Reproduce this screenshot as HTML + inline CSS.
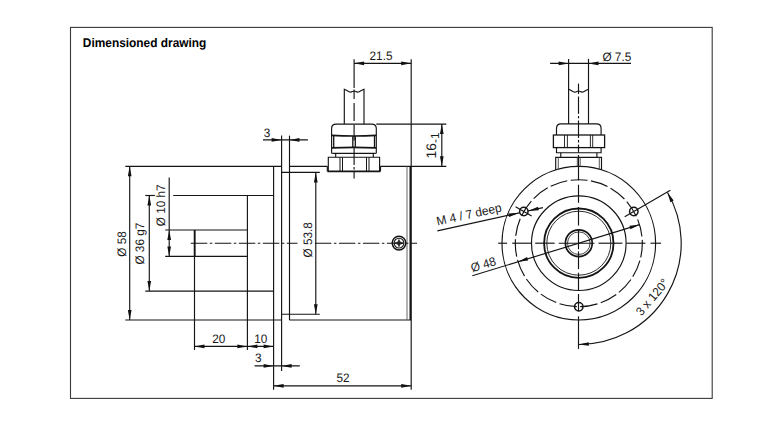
<!DOCTYPE html>
<html><head><meta charset="utf-8"><title>Dimensioned drawing</title>
<style>
html,body{margin:0;padding:0;background:#fff;}
svg{display:block;font-family:"Liberation Sans",Arial,Helvetica,sans-serif;text-rendering:geometricPrecision;}
</style></head>
<body>
<svg width="784" height="423" viewBox="0 0 784 423">
<rect x="0" y="0" width="784" height="423" fill="#fff"/>
<rect x="70.5" y="27.4" width="641.7" height="371.0" fill="none" stroke="#3a3a3a" stroke-width="1.1"/>
<text transform="translate(82.80 47.30) scale(1 1.06)" font-size="11.9" text-anchor="start" font-weight="bold" >Dimensioned drawing</text>
<g stroke="#141414" fill="none" stroke-width="1.15">
<line x1="125.30" y1="166.30" x2="281.60" y2="166.30" stroke-width="1.15" />
<line x1="289.50" y1="166.30" x2="327.30" y2="166.30" stroke-width="1.15" />
<line x1="380.50" y1="166.30" x2="446.30" y2="166.30" stroke-width="1.15" />
<line x1="125.30" y1="320.00" x2="281.60" y2="320.00" stroke-width="1.15" />
<line x1="289.30" y1="320.00" x2="411.20" y2="320.00" stroke-width="1.15" />
<line x1="273.60" y1="166.30" x2="273.60" y2="389.80" stroke-width="1.15" />
<line x1="281.60" y1="135.60" x2="281.60" y2="371.00" stroke-width="1.15" />
<line x1="289.50" y1="135.60" x2="289.50" y2="320.00" stroke-width="1.15" />
<line x1="281.60" y1="172.40" x2="319.80" y2="172.40" stroke-width="1.15" />
<line x1="281.60" y1="314.20" x2="319.80" y2="314.20" stroke-width="1.15" />
<line x1="411.20" y1="59.20" x2="411.20" y2="389.80" stroke-width="1.15" />
<line x1="410.30" y1="166.30" x2="410.30" y2="320.00" stroke-width="1.6" />
<line x1="407.00" y1="166.30" x2="407.00" y2="320.00" stroke-width="0.9" stroke="#555"/>
<line x1="247.40" y1="195.50" x2="247.40" y2="350.00" stroke-width="1.15" />
<line x1="173.20" y1="195.50" x2="273.60" y2="195.50" stroke-width="1.15" />
<line x1="145.30" y1="195.50" x2="154.90" y2="195.50" stroke-width="1.15" />
<line x1="145.30" y1="291.10" x2="273.60" y2="291.10" stroke-width="1.15" />
<line x1="194.50" y1="230.00" x2="194.50" y2="350.00" stroke-width="1.15" />
<line x1="194.70" y1="230.00" x2="194.70" y2="256.40" stroke-width="1.8" />
<line x1="165.20" y1="230.00" x2="247.40" y2="230.00" stroke-width="1.15" />
<line x1="165.20" y1="256.40" x2="247.40" y2="256.40" stroke-width="1.15" />
<line x1="190.80" y1="243.20" x2="297.50" y2="243.20" stroke-width="1.15" stroke-dasharray="16.5 2.5 2.5 2.5"/>
<line x1="314.90" y1="243.20" x2="417.00" y2="243.20" stroke-width="1.15" stroke-dasharray="16.5 2.5 2.5 2.5"/>
<circle cx="399" cy="243.1" r="6.8" stroke-width="1.5"/>
<circle cx="399" cy="243.1" r="4.9" stroke-width="1.1"/>
<path d="M394.6 243.1 L397.9 241.9 L399 239.5 L400.1 241.9 L403.4 243.1 L400.1 244.3 L399 246.7 L397.9 244.3 Z" fill="#222" stroke-width="0.6"/>
<line x1="129.70" y1="166.30" x2="129.70" y2="320.00" stroke-width="1.15" />
<polygon points="129.70,166.30 131.55,176.30 127.85,176.30" fill="#111" stroke="none"/>
<polygon points="129.70,320.00 127.85,310.00 131.55,310.00" fill="#111" stroke="none"/>
<line x1="149.30" y1="195.50" x2="149.30" y2="291.10" stroke-width="1.15" />
<polygon points="149.30,195.50 151.15,205.50 147.45,205.50" fill="#111" stroke="none"/>
<polygon points="149.30,291.10 147.45,281.10 151.15,281.10" fill="#111" stroke="none"/>
<line x1="169.20" y1="177.40" x2="169.20" y2="256.40" stroke-width="1.15" />
<polygon points="169.20,230.00 171.05,240.00 167.35,240.00" fill="#111" stroke="none"/>
<polygon points="169.20,256.40 167.35,246.40 171.05,246.40" fill="#111" stroke="none"/>
<line x1="315.80" y1="172.40" x2="315.80" y2="314.20" stroke-width="1.15" />
<polygon points="315.80,172.40 317.65,182.40 313.95,182.40" fill="#111" stroke="none"/>
<polygon points="315.80,314.20 313.95,304.20 317.65,304.20" fill="#111" stroke="none"/>
<line x1="194.50" y1="346.40" x2="273.60" y2="346.40" stroke-width="1.15" />
<polygon points="194.50,346.40 204.50,344.55 204.50,348.25" fill="#111" stroke="none"/>
<polygon points="247.40,346.40 237.40,348.25 237.40,344.55" fill="#111" stroke="none"/>
<polygon points="247.40,346.40 257.40,344.55 257.40,348.25" fill="#111" stroke="none"/>
<polygon points="273.60,346.40 263.60,348.25 263.60,344.55" fill="#111" stroke="none"/>
<line x1="254.60" y1="365.90" x2="299.80" y2="365.90" stroke-width="1.15" />
<polygon points="273.60,365.90 263.60,367.75 263.60,364.05" fill="#111" stroke="none"/>
<polygon points="281.60,365.90 291.60,364.05 291.60,367.75" fill="#111" stroke="none"/>
<line x1="263.00" y1="139.90" x2="307.90" y2="139.90" stroke-width="1.15" />
<polygon points="281.60,139.90 271.60,141.75 271.60,138.05" fill="#111" stroke="none"/>
<polygon points="289.50,139.90 299.50,138.05 299.50,141.75" fill="#111" stroke="none"/>
<line x1="273.60" y1="385.80" x2="411.20" y2="385.80" stroke-width="1.15" />
<polygon points="273.60,385.80 283.60,383.95 283.60,387.65" fill="#111" stroke="none"/>
<polygon points="411.20,385.80 401.20,387.65 401.20,383.95" fill="#111" stroke="none"/>
<line x1="354.10" y1="63.30" x2="411.20" y2="63.30" stroke-width="1.15" />
<polygon points="354.10,63.30 364.10,61.45 364.10,65.15" fill="#111" stroke="none"/>
<polygon points="411.20,63.30 401.20,65.15 401.20,61.45" fill="#111" stroke="none"/>
<line x1="376.30" y1="124.10" x2="446.30" y2="124.10" stroke-width="1.15" />
<line x1="441.80" y1="124.10" x2="441.80" y2="166.30" stroke-width="1.15" />
<polygon points="441.80,124.10 443.65,134.10 439.95,134.10" fill="#111" stroke="none"/>
<polygon points="441.80,166.30 439.95,156.30 443.65,156.30" fill="#111" stroke="none"/>
<line x1="354.10" y1="59.20" x2="354.10" y2="88.00" stroke-width="1.15" />
<line x1="354.10" y1="89.50" x2="354.10" y2="99.00" stroke-width="1.15" />
<line x1="354.10" y1="103.00" x2="354.10" y2="121.00" stroke-width="1.15" />
<line x1="354.10" y1="124.70" x2="354.10" y2="140.50" stroke-width="1.15" />
<line x1="354.10" y1="148.00" x2="354.10" y2="165.00" stroke-width="1.15" />
<line x1="354.10" y1="167.00" x2="354.10" y2="169.50" stroke-width="1.15" />
<line x1="354.10" y1="171.50" x2="354.10" y2="178.60" stroke-width="1.15" />
<path d="M344.3 124.1 V89.2 Q345.5 89.6 348.6 91.6 Q350.6 92.8 352.4 91.6 Q354.1 90.4 355.8 91.6 Q357.6 92.8 359.6 91.6 Q362.8 89.6 364.0 89.2 V124.1"/>
<path d="M331.6 153.4 V128.6 Q331.6 124.1 336.1 124.1 H371.8 Q376.3 124.1 376.3 128.6 V153.4"/>
<path d="M332.2 153.3 H375.8" />
<path d="M331.6 135.3 Q354 136.7 376.3 135.3 M331.6 147.9 Q354 146.7 376.3 147.9" stroke-width="1.7"/>
<path d="M333.7 135.6 V147.6 M352.8 136 V147.2 M355.3 136 V147.2 M374.5 135.6 V147.6" stroke-width="1.3"/>
<path d="M335.7 153.4 V157.2 M373.3 153.4 V157.2"/>
<path d="M328.3 171.3 V157.2 H379.6 V171.3"/>
<line x1="327.40" y1="171.30" x2="380.40" y2="171.30" stroke-width="1.8" />
<path d="M340.0 157.2 V171 M342.5 157.2 V171 M366.5 157.2 V171 M369.0 157.2 V171" stroke-width="1"/>
<path d="M327.3 166.3 V171.3 M380.5 166.3 V171.3"/>
<circle cx="578.8" cy="243.2" r="76.8"/>
<circle cx="578.8" cy="243.2" r="63.5" stroke-dasharray="17.6 3.399" stroke-dashoffset="8.8" transform="rotate(-90 578.8 243.2)"/>
<circle cx="578.8" cy="243.2" r="47.3"/>
<circle cx="578.8" cy="243.2" r="34.7" stroke-width="1.8"/>
<circle cx="578.8" cy="243.2" r="32.0" stroke-width="0.9"/>
<circle cx="578.8" cy="243.2" r="13.4" stroke-width="1.7"/>
<circle cx="578.8" cy="243.2" r="11.3" stroke-width="0.8"/>
<circle cx="633.79" cy="211.45" r="4.2" stroke-width="1.5"/>
<circle cx="523.81" cy="211.45" r="4.2" stroke-width="1.5"/>
<circle cx="578.80" cy="306.70" r="4.2" stroke-width="1.5"/>
<line x1="624.70" y1="216.70" x2="670.34" y2="190.35" stroke-width="1.15" />
<line x1="531.60" y1="215.95" x2="515.58" y2="206.70" stroke-width="1.15" />
<path d="M667.48 192.55 A102.4 101.3 0 0 1 578.80 344.50"/>
<polygon points="667.48,192.55 673.67,200.62 670.37,202.30" fill="#111" stroke="none"/>
<polygon points="578.80,344.50 588.69,342.13 588.88,345.82" fill="#111" stroke="none"/>
<line x1="472.30" y1="275.76" x2="639.53" y2="224.63" stroke-width="1.15" />
<polygon points="639.53,224.63 630.50,229.33 629.42,225.79" fill="#111" stroke="none"/>
<polygon points="518.07,261.77 527.10,257.07 528.18,260.61" fill="#111" stroke="none"/>
<line x1="437.40" y1="230.93" x2="519.71" y2="212.76" stroke-width="1.15" />
<line x1="527.91" y1="210.94" x2="542.95" y2="207.62" stroke-width="1.15" />
<polygon points="519.71,212.76 509.06,216.95 508.28,213.43" fill="#111" stroke="none"/>
<polygon points="527.91,210.94 538.07,206.86 538.84,210.37" fill="#111" stroke="none"/>
<line x1="550.10" y1="63.40" x2="631.00" y2="63.40" stroke-width="1.15" />
<line x1="568.60" y1="58.90" x2="568.60" y2="123.90" stroke-width="1.15" />
<line x1="588.50" y1="58.90" x2="588.50" y2="123.90" stroke-width="1.15" />
<polygon points="568.60,63.40 558.60,65.25 558.60,61.55" fill="#111" stroke="none"/>
<polygon points="588.50,63.40 598.50,61.55 598.50,65.25" fill="#111" stroke="none"/>
<path d="M568.6 89.2 Q569.8 89.6 572.9 91.6 Q574.9 92.8 576.9 91.6 Q578.6 90.4 580.3 91.6 Q582.1 92.8 584.1 91.6 Q587.3 89.6 588.5 89.2"/>
<path d="M556.5 152.7 V128.4 Q556.5 123.9 561 123.9 H596.6 Q601.1 123.9 601.1 128.4 V152.7 Z" fill="#fff"/>
<rect x="553.4" y="135" width="51.2" height="12.6" fill="#fff" stroke-width="1.3"/>
<path d="M564.5 135 V147.6 M567.4 135 V147.6 M590.4 135 V147.6 M592.7 135 V147.6" stroke-width="0.9"/>
<path d="M560.8 152.7 V157.3 M596.9 152.7 V157.3"/>
<path d="M555.7 170 V157.3 H601.5 V170"/>
<path d="M558.3 157.3 V169 M577.3 157.3 V166.3 M580.2 157.3 V166.3 M599.3 157.3 V169" stroke-width="0.9" stroke="#444"/>
<line x1="498.20" y1="243.20" x2="507.10" y2="243.20" stroke-width="1.15" />
<line x1="512.20" y1="243.20" x2="531.20" y2="243.20" stroke-width="1.15" />
<line x1="535.20" y1="243.20" x2="554.70" y2="243.20" stroke-width="1.15" />
<line x1="558.70" y1="243.20" x2="594.50" y2="243.20" stroke-width="1.15" />
<line x1="598.50" y1="243.20" x2="622.40" y2="243.20" stroke-width="1.15" />
<line x1="626.40" y1="243.20" x2="645.40" y2="243.20" stroke-width="1.15" />
<line x1="650.50" y1="243.20" x2="661.00" y2="243.20" stroke-width="1.15" />
<line x1="578.50" y1="83.60" x2="578.50" y2="94.10" stroke-width="1.15" />
<line x1="578.50" y1="96.50" x2="578.50" y2="113.90" stroke-width="1.15" />
<line x1="578.50" y1="116.00" x2="578.50" y2="118.40" stroke-width="1.15" />
<line x1="578.50" y1="120.50" x2="578.50" y2="137.90" stroke-width="1.15" />
<line x1="578.50" y1="139.90" x2="578.50" y2="142.50" stroke-width="1.15" />
<line x1="578.50" y1="144.60" x2="578.50" y2="152.60" stroke-width="1.15" />
<line x1="578.50" y1="155.00" x2="578.50" y2="180.40" stroke-width="1.15" />
<line x1="578.50" y1="184.70" x2="578.50" y2="202.80" stroke-width="1.15" />
<line x1="578.50" y1="207.00" x2="578.50" y2="225.50" stroke-width="1.15" />
<line x1="578.50" y1="229.00" x2="578.50" y2="249.30" stroke-width="1.15" />
<line x1="578.50" y1="251.40" x2="578.50" y2="269.10" stroke-width="1.15" />
<line x1="578.50" y1="272.70" x2="578.50" y2="290.40" stroke-width="1.15" />
<line x1="578.50" y1="294.00" x2="578.50" y2="311.30" stroke-width="1.15" />
<line x1="578.50" y1="316.30" x2="578.50" y2="348.90" stroke-width="1.15" />
</g>
<g fill="#1a1a1a">
<text transform="translate(126.40 243.90) rotate(-90) scale(1 1.04)" font-size="11.8" text-anchor="middle" >Ø 58</text>
<text transform="translate(144.40 243.60) rotate(-90) scale(1 1.04)" font-size="11.8" text-anchor="middle" >Ø 36 g7</text>
<text transform="translate(165.10 226.30) rotate(-90) scale(1 1.04)" font-size="11.8" text-anchor="start" >Ø 10 h7</text>
<text transform="translate(312.30 239.80) rotate(-90) scale(1 1.04)" font-size="11.8" text-anchor="middle" >Ø 53.8</text>
<text transform="translate(218.80 342.80) scale(1 1.04)" font-size="11.8" text-anchor="middle" >20</text>
<text transform="translate(260.70 342.80) scale(1 1.04)" font-size="11.8" text-anchor="middle" >10</text>
<text transform="translate(254.90 362.30) scale(1 1.04)" font-size="11.8" text-anchor="start" >3</text>
<text transform="translate(263.70 136.60) scale(1 1.04)" font-size="11.8" text-anchor="start" >3</text>
<text transform="translate(343.10 382.40) scale(1 1.04)" font-size="11.8" text-anchor="middle" >52</text>
<text transform="translate(381.00 59.70) scale(1 1.04)" font-size="11.8" text-anchor="middle" >21.5</text>
<text transform="translate(435.80 158.40) rotate(-90) scale(1 1.0)" font-size="11.8" text-anchor="start" ><tspan font-size="13.8">16</tspan><tspan dy="3.1">-1</tspan></text>
<text transform="translate(602.40 60.50) scale(1 1.04)" font-size="11.8" text-anchor="start" >Ø 7.5</text>
<text transform="translate(437.60 225.60) rotate(-12.45) scale(1 1.04)" font-size="11.9" text-anchor="start" >M 4 / 7 deep</text>
<text transform="translate(472.30 272.30) rotate(-17.0) scale(1 1.04)" font-size="11.8" text-anchor="start" >Ø 48</text>
<text transform="translate(641.50 316.50) rotate(-50) scale(1 1.04)" font-size="11.8" text-anchor="start" >3 x 120°</text>
</g>
</svg>
</body></html>
